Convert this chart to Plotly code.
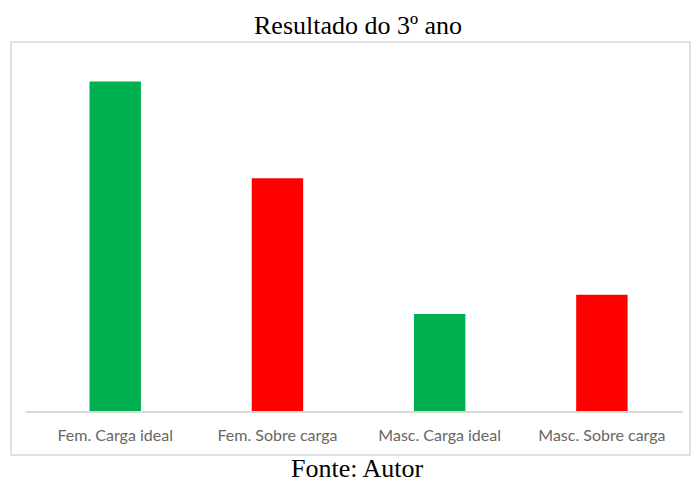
import plotly.graph_objects as go

# Resultado do 3º ano — contagem por categoria
categorias = ["Fem. Carga ideal", "Fem. Sobre carga", "Masc. Carga ideal", "Masc. Sobre carga"]
valores = [17, 12, 5, 6]
cores = ["#00B050", "#FF0000", "#00B050", "#FF0000"]

W, H = 691, 484
left, right, top, bottom = 26, 691 - 683, 62, 484 - 411
pw, ph = W - left - right, H - top - bottom

def px_x(x):
    return (x - left) / pw

def px_y(y):
    return (H - bottom - y) / ph

fig = go.Figure(
    go.Bar(
        x=categorias,
        y=valores,
        marker=dict(color=cores, line=dict(width=0)),
        width=0.317,
        hoverinfo="x+y",
    )
)

fig.update_layout(
    width=W,
    height=H,
    margin=dict(l=left, r=right, t=top, b=bottom, pad=0),
    paper_bgcolor="white",
    plot_bgcolor="white",
    showlegend=False,
    xaxis=dict(
        range=[-0.55, 3.5],
        showgrid=False,
        zeroline=False,
        showline=True,
        linecolor="#d9d9d9",
        linewidth=1.5,
        ticks="",
        tickfont=dict(family="Lato", size=16, color="#666666"),
        ticklabelstandoff=9,
    ),
    yaxis=dict(
        range=[0, 18],
        showgrid=False,
        zeroline=False,
        showline=False,
        showticklabels=False,
        ticks="",
    ),
    shapes=[
        dict(
            type="rect",
            xref="paper",
            yref="paper",
            x0=px_x(11),
            x1=px_x(690),
            y0=px_y(455),
            y1=px_y(42),
            line=dict(color="#d9d9d9", width=1.5),
            fillcolor="rgba(0,0,0,0)",
            layer="below",
        )
    ],
    annotations=[
        dict(
            text="Resultado do 3º ano",
            xref="paper",
            yref="paper",
            x=px_x(358),
            y=px_y(25),
            xanchor="center",
            yanchor="middle",
            showarrow=False,
            font=dict(family="Liberation Serif", size=26, color="black"),
        ),
        dict(
            text="Fonte: Autor",
            xref="paper",
            yref="paper",
            x=px_x(357.5),
            y=px_y(468.5),
            xanchor="center",
            yanchor="middle",
            showarrow=False,
            font=dict(family="Liberation Serif", size=26, color="black"),
        ),
    ],
)

fig.write_html("out.html")
